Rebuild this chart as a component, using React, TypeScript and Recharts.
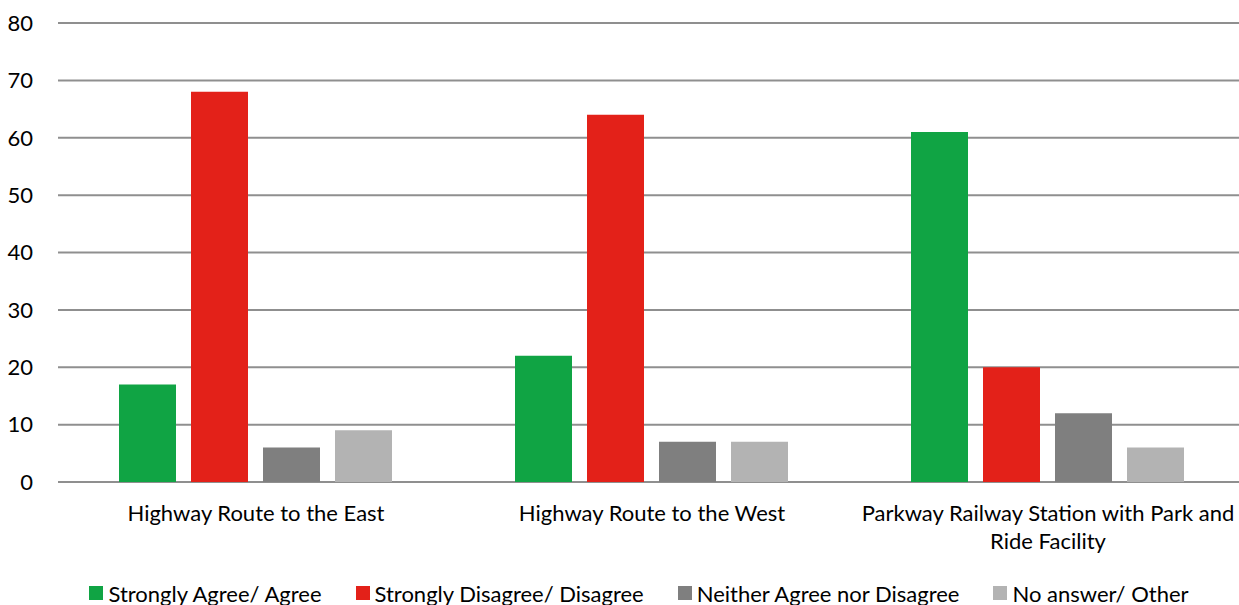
import React from "react";
import { Bar, BarChart, CartesianGrid, Legend, XAxis, YAxis } from "recharts";

const categories: string[] = [
  "Highway Route to the East",
  "Highway Route to the West",
  "Parkway Railway Station with Park and Ride Facility",
];

const agree: number[] = [17, 22, 61];
const disagree: number[] = [68, 64, 20];
const neither: number[] = [6, 7, 12];
const other: number[] = [9, 7, 6];

const yTicks: number[] = [0, 10, 20, 30, 40, 50, 60, 70, 80];

const seriesInfo = [
  { key: "agree", name: "Strongly Agree/ Agree", color: "#10A444" },
  { key: "disagree", name: "Strongly Disagree/ Disagree", color: "#E32119" },
  { key: "neither", name: "Neither Agree nor Disagree", color: "#7F7F7F" },
  { key: "other", name: "No answer/ Other", color: "#B3B3B3" },
];

const data = categories.map((name, i) => ({
  name,
  agree: agree[i],
  disagree: disagree[i],
  neither: neither[i],
  other: other[i],
}));

const FONT = "Lato, 'Open Sans', sans-serif";
const FS = 22;

// greedy word wrap using canvas text metrics
function wrapText(text: string, maxWidth: number): string[] {
  const ctx = document.createElement("canvas").getContext("2d");
  if (!ctx) return [text];
  ctx.font = `${FS}px ${FONT}`;
  const words = text.split(" ");
  const lines: string[] = [];
  let cur = "";
  words.forEach((w) => {
    const next = cur ? cur + " " + w : w;
    if (cur && ctx.measureText(next).width > maxWidth) {
      lines.push(cur);
      cur = w;
    } else {
      cur = next;
    }
  });
  if (cur) lines.push(cur);
  return lines;
}

const CategoryTick = (props: any) => {
  const { x, y, payload } = props;
  const lines = wrapText(String(payload.value), 390);
  return (
    <text
      x={x}
      y={y + 31}
      textAnchor="middle"
      fill="#000"
      style={{ fontSize: FS, fontFamily: FONT }}
    >
      {lines.map((l, i) => (
        <tspan key={i} x={x} dy={i === 0 ? 0 : 28}>
          {l}
        </tspan>
      ))}
    </text>
  );
};

const LegendBox = () => (
  <div
    style={{
      display: "flex",
      justifyContent: "center",
      alignItems: "center",
      gap: 34,
      fontFamily: FONT,
      fontSize: FS,
      color: "#000",
      height: 24,
      paddingLeft: 32,
      whiteSpace: "nowrap",
    }}
  >
    {seriesInfo.map((s) => (
      <div key={s.key} style={{ display: "flex", alignItems: "center", gap: 5 }}>
        <span style={{ width: 14, height: 14, background: s.color, display: "inline-block" }} />
        <span>{s.name}</span>
      </div>
    ))}
  </div>
);

export default function App() {
  return (
    <div
      style={{
        position: "absolute",
        left: 0,
        top: 0,
        width: 1239,
        height: 605,
        overflow: "hidden",
        background: "#fff",
      }}
    >
      <BarChart
        width={1246}
        height={605}
        data={data}
        margin={{ top: 23, right: 0, bottom: 0, left: 0 }}
        barCategoryGap={61}
        barGap={15}
      >
        <CartesianGrid vertical={false} stroke="#8f8f8f" strokeWidth={2} />
        <XAxis
          dataKey="name"
          axisLine={false}
          tickLine={false}
          height={99}
          interval={0}
          tick={<CategoryTick />}
        />
        <YAxis
          width={58}
          domain={[0, 80]}
          ticks={yTicks}
          axisLine={false}
          tickLine={false}
          tickMargin={19}
          tick={{ fontSize: FS, fontFamily: FONT, fill: "#000" }}
        />
        <Legend verticalAlign="bottom" height={24} content={<LegendBox />} />
        {seriesInfo.map((s) => (
          <Bar
            key={s.key}
            dataKey={s.key}
            name={s.name}
            fill={s.color}
            isAnimationActive={false}
          />
        ))}
      </BarChart>
    </div>
  );
}
